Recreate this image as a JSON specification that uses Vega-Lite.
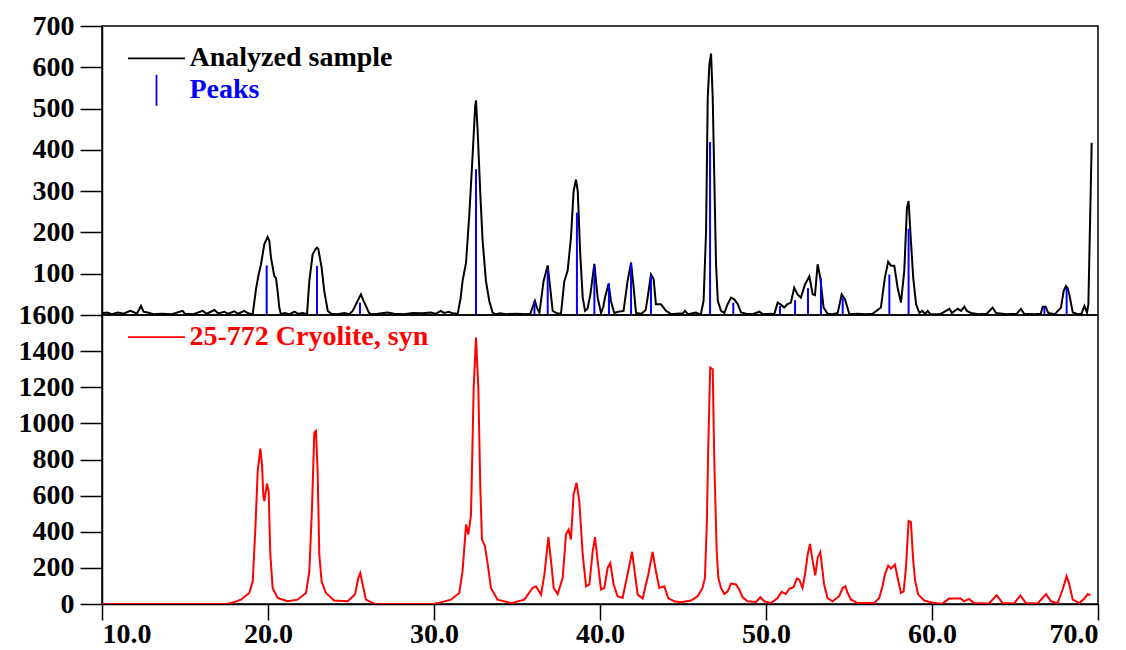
{
  "$schema": "https://vega.github.io/schema/vega-lite/v6.json",
  "padding": {"left": 5, "top": 11, "right": 5, "bottom": 5},
  "background": "#ffffff",
  "spacing": 0,
  "bounds": "flush",
  "datasets": {
    "sample": [
      {"angle": 10.0, "counts": 4}, {"angle": 10.3, "counts": 6}, {"angle": 10.6, "counts": 2}, {"angle": 10.95, "counts": 6},
      {"angle": 11.3, "counts": 3}, {"angle": 11.7, "counts": 10}, {"angle": 11.85, "counts": 8}, {"angle": 12.1, "counts": 3},
      {"angle": 12.35, "counts": 22}, {"angle": 12.5, "counts": 8}, {"angle": 12.75, "counts": 6}, {"angle": 13.1, "counts": 2},
      {"angle": 13.6, "counts": 3}, {"angle": 14.2, "counts": 2}, {"angle": 14.86, "counts": 10}, {"angle": 15.0, "counts": 3},
      {"angle": 15.5, "counts": 2}, {"angle": 16.07, "counts": 10}, {"angle": 16.3, "counts": 3}, {"angle": 16.77, "counts": 12},
      {"angle": 17.0, "counts": 4}, {"angle": 17.37, "counts": 8}, {"angle": 17.6, "counts": 3}, {"angle": 17.97, "counts": 9},
      {"angle": 18.2, "counts": 3}, {"angle": 18.57, "counts": 10}, {"angle": 18.8, "counts": 4}, {"angle": 19.08, "counts": 2},
      {"angle": 19.28, "counts": 63}, {"angle": 19.42, "counts": 95}, {"angle": 19.58, "counts": 123}, {"angle": 19.78, "counts": 172},
      {"angle": 19.98, "counts": 189}, {"angle": 20.08, "counts": 180}, {"angle": 20.18, "counts": 139}, {"angle": 20.38, "counts": 94},
      {"angle": 20.48, "counts": 90}, {"angle": 20.58, "counts": 58}, {"angle": 20.68, "counts": 18}, {"angle": 20.78, "counts": 2},
      {"angle": 21.0, "counts": 5}, {"angle": 21.3, "counts": 2}, {"angle": 21.6, "counts": 8}, {"angle": 21.8, "counts": 3},
      {"angle": 22.1, "counts": 5}, {"angle": 22.35, "counts": 2}, {"angle": 22.49, "counts": 82}, {"angle": 22.69, "counts": 147},
      {"angle": 22.87, "counts": 160}, {"angle": 22.95, "counts": 163}, {"angle": 23.03, "counts": 160}, {"angle": 23.23, "counts": 115},
      {"angle": 23.39, "counts": 58}, {"angle": 23.6, "counts": 10}, {"angle": 23.8, "counts": 3}, {"angle": 24.2, "counts": 2},
      {"angle": 24.6, "counts": 5}, {"angle": 24.9, "counts": 2}, {"angle": 25.1, "counts": 10}, {"angle": 25.3, "counts": 26},
      {"angle": 25.45, "counts": 38}, {"angle": 25.6, "counts": 50}, {"angle": 25.75, "counts": 35}, {"angle": 25.9, "counts": 22},
      {"angle": 26.05, "counts": 8}, {"angle": 26.16, "counts": 2}, {"angle": 26.6, "counts": 3}, {"angle": 27.2, "counts": 6},
      {"angle": 27.6, "counts": 3}, {"angle": 28.2, "counts": 2}, {"angle": 28.7, "counts": 5}, {"angle": 29.3, "counts": 4},
      {"angle": 29.8, "counts": 6}, {"angle": 30.1, "counts": 3}, {"angle": 30.4, "counts": 10}, {"angle": 30.6, "counts": 5},
      {"angle": 30.9, "counts": 8}, {"angle": 31.1, "counts": 4}, {"angle": 31.43, "counts": 3}, {"angle": 31.6, "counts": 40},
      {"angle": 31.72, "counts": 82}, {"angle": 31.93, "counts": 127}, {"angle": 32.13, "counts": 245}, {"angle": 32.33, "counts": 390},
      {"angle": 32.48, "counts": 505}, {"angle": 32.53, "counts": 520}, {"angle": 32.63, "counts": 445}, {"angle": 32.79, "counts": 293},
      {"angle": 32.93, "counts": 179}, {"angle": 33.13, "counts": 82}, {"angle": 33.33, "counts": 34}, {"angle": 33.53, "counts": 6},
      {"angle": 33.7, "counts": 2}, {"angle": 34.0, "counts": 4}, {"angle": 34.3, "counts": 2}, {"angle": 35.0, "counts": 3},
      {"angle": 35.5, "counts": 2}, {"angle": 35.8, "counts": 3}, {"angle": 35.95, "counts": 20}, {"angle": 36.08, "counts": 34},
      {"angle": 36.2, "counts": 18}, {"angle": 36.35, "counts": 5}, {"angle": 36.6, "counts": 82}, {"angle": 36.85, "counts": 120},
      {"angle": 37.0, "counts": 66}, {"angle": 37.15, "counts": 10}, {"angle": 37.4, "counts": 4}, {"angle": 37.65, "counts": 3},
      {"angle": 37.85, "counts": 82}, {"angle": 38.05, "counts": 107}, {"angle": 38.25, "counts": 187}, {"angle": 38.41, "counts": 300},
      {"angle": 38.55, "counts": 328}, {"angle": 38.66, "counts": 300}, {"angle": 38.81, "counts": 147}, {"angle": 38.96, "counts": 42},
      {"angle": 39.1, "counts": 10}, {"angle": 39.25, "counts": 15}, {"angle": 39.42, "counts": 50}, {"angle": 39.66, "counts": 124},
      {"angle": 39.86, "counts": 42}, {"angle": 40.06, "counts": 5}, {"angle": 40.2, "counts": 20}, {"angle": 40.3, "counts": 42},
      {"angle": 40.52, "counts": 76}, {"angle": 40.66, "counts": 34}, {"angle": 40.86, "counts": 5}, {"angle": 41.1, "counts": 8},
      {"angle": 41.42, "counts": 10}, {"angle": 41.66, "counts": 82}, {"angle": 41.87, "counts": 127}, {"angle": 42.03, "counts": 66},
      {"angle": 42.17, "counts": 5}, {"angle": 42.5, "counts": 3}, {"angle": 42.75, "counts": 12}, {"angle": 42.87, "counts": 42},
      {"angle": 43.07, "counts": 98}, {"angle": 43.23, "counts": 87}, {"angle": 43.37, "counts": 26}, {"angle": 43.67, "counts": 26},
      {"angle": 43.98, "counts": 10}, {"angle": 44.28, "counts": 2}, {"angle": 44.6, "counts": 3}, {"angle": 45.0, "counts": 4},
      {"angle": 45.12, "counts": 10}, {"angle": 45.3, "counts": 2}, {"angle": 45.78, "counts": 6}, {"angle": 46.0, "counts": 2},
      {"angle": 46.08, "counts": 3}, {"angle": 46.24, "counts": 34}, {"angle": 46.39, "counts": 203}, {"angle": 46.49, "counts": 526},
      {"angle": 46.59, "counts": 607}, {"angle": 46.69, "counts": 633}, {"angle": 46.79, "counts": 526}, {"angle": 46.89, "counts": 325},
      {"angle": 46.99, "counts": 123}, {"angle": 47.1, "counts": 34}, {"angle": 47.29, "counts": 10}, {"angle": 47.49, "counts": 5},
      {"angle": 47.69, "counts": 26}, {"angle": 47.89, "counts": 42}, {"angle": 48.09, "counts": 38}, {"angle": 48.3, "counts": 26},
      {"angle": 48.5, "counts": 6}, {"angle": 48.8, "counts": 3}, {"angle": 49.2, "counts": 2}, {"angle": 49.6, "counts": 8},
      {"angle": 49.8, "counts": 2}, {"angle": 50.3, "counts": 3}, {"angle": 50.5, "counts": 2}, {"angle": 50.7, "counts": 30},
      {"angle": 50.9, "counts": 25}, {"angle": 51.1, "counts": 18}, {"angle": 51.27, "counts": 26}, {"angle": 51.5, "counts": 30},
      {"angle": 51.7, "counts": 66}, {"angle": 51.9, "counts": 50}, {"angle": 52.1, "counts": 42}, {"angle": 52.35, "counts": 74},
      {"angle": 52.61, "counts": 94}, {"angle": 52.81, "counts": 50}, {"angle": 52.95, "counts": 48}, {"angle": 53.11, "counts": 123},
      {"angle": 53.27, "counts": 90}, {"angle": 53.47, "counts": 18}, {"angle": 53.71, "counts": 3}, {"angle": 54.0, "counts": 2},
      {"angle": 54.32, "counts": 5}, {"angle": 54.56, "counts": 50}, {"angle": 54.76, "counts": 38}, {"angle": 55.02, "counts": 2},
      {"angle": 55.5, "counts": 3}, {"angle": 56.0, "counts": 2}, {"angle": 56.42, "counts": 3}, {"angle": 56.92, "counts": 18},
      {"angle": 57.16, "counts": 90}, {"angle": 57.36, "counts": 129}, {"angle": 57.53, "counts": 119}, {"angle": 57.73, "counts": 119},
      {"angle": 57.93, "counts": 66}, {"angle": 58.13, "counts": 30}, {"angle": 58.33, "counts": 107}, {"angle": 58.49, "counts": 260},
      {"angle": 58.59, "counts": 276}, {"angle": 58.73, "counts": 179}, {"angle": 58.87, "counts": 90}, {"angle": 59.04, "counts": 26},
      {"angle": 59.24, "counts": 5}, {"angle": 59.4, "counts": 10}, {"angle": 59.6, "counts": 3}, {"angle": 59.74, "counts": 10},
      {"angle": 59.9, "counts": 2}, {"angle": 60.5, "counts": 2}, {"angle": 61.05, "counts": 15}, {"angle": 61.2, "counts": 5},
      {"angle": 61.55, "counts": 15}, {"angle": 61.75, "counts": 10}, {"angle": 61.95, "counts": 20}, {"angle": 62.1, "counts": 10},
      {"angle": 62.35, "counts": 5}, {"angle": 62.8, "counts": 2}, {"angle": 63.3, "counts": 3}, {"angle": 63.65, "counts": 18},
      {"angle": 63.85, "counts": 5}, {"angle": 64.5, "counts": 2}, {"angle": 65.1, "counts": 3}, {"angle": 65.36, "counts": 15},
      {"angle": 65.55, "counts": 3}, {"angle": 66.2, "counts": 2}, {"angle": 66.55, "counts": 3}, {"angle": 66.67, "counts": 20},
      {"angle": 66.85, "counts": 20}, {"angle": 67.0, "counts": 5}, {"angle": 67.4, "counts": 2}, {"angle": 67.77, "counts": 18},
      {"angle": 67.93, "counts": 58}, {"angle": 68.07, "counts": 70}, {"angle": 68.17, "counts": 65}, {"angle": 68.27, "counts": 50},
      {"angle": 68.48, "counts": 6}, {"angle": 68.8, "counts": 2}, {"angle": 69.0, "counts": 3}, {"angle": 69.18, "counts": 22},
      {"angle": 69.34, "counts": 6}, {"angle": 69.42, "counts": 26}, {"angle": 69.62, "counts": 417}
    ],
    "peaks": [
      {"angle": 19.92, "counts": 120}, {"angle": 22.95, "counts": 119}, {"angle": 25.54, "counts": 30},
      {"angle": 32.53, "counts": 353}, {"angle": 36.05, "counts": 34}, {"angle": 36.85, "counts": 111},
      {"angle": 38.61, "counts": 248}, {"angle": 39.66, "counts": 120}, {"angle": 40.54, "counts": 77},
      {"angle": 41.87, "counts": 127}, {"angle": 43.07, "counts": 95}, {"angle": 46.63, "counts": 419},
      {"angle": 48.03, "counts": 30}, {"angle": 50.84, "counts": 22}, {"angle": 51.75, "counts": 36},
      {"angle": 52.53, "counts": 65}, {"angle": 53.31, "counts": 90}, {"angle": 54.62, "counts": 42},
      {"angle": 57.43, "counts": 98}, {"angle": 58.59, "counts": 209}, {"angle": 66.77, "counts": 19},
      {"angle": 68.11, "counts": 66}
    ],
    "cryolite": [
      {"angle": 10.0, "counts": 0}, {"angle": 17.5, "counts": 0}, {"angle": 17.77, "counts": 5}, {"angle": 18.37, "counts": 24},
      {"angle": 18.87, "counts": 61}, {"angle": 19.08, "counts": 126}, {"angle": 19.24, "counts": 421}, {"angle": 19.38, "counts": 736},
      {"angle": 19.54, "counts": 860}, {"angle": 19.64, "counts": 773}, {"angle": 19.72, "counts": 600}, {"angle": 19.78, "counts": 570},
      {"angle": 19.94, "counts": 666}, {"angle": 20.04, "counts": 625}, {"angle": 20.14, "counts": 274}, {"angle": 20.28, "counts": 89},
      {"angle": 20.58, "counts": 33}, {"angle": 21.18, "counts": 15}, {"angle": 21.78, "counts": 24}, {"angle": 22.29, "counts": 61},
      {"angle": 22.49, "counts": 181}, {"angle": 22.65, "counts": 532}, {"angle": 22.79, "counts": 948}, {"angle": 22.89, "counts": 958},
      {"angle": 22.99, "counts": 736}, {"angle": 23.09, "counts": 274}, {"angle": 23.23, "counts": 126}, {"angle": 23.49, "counts": 61},
      {"angle": 23.99, "counts": 19}, {"angle": 24.8, "counts": 15}, {"angle": 25.24, "counts": 52}, {"angle": 25.44, "counts": 144},
      {"angle": 25.56, "counts": 172}, {"angle": 25.7, "counts": 108}, {"angle": 25.9, "counts": 24}, {"angle": 26.4, "counts": 2},
      {"angle": 27.0, "counts": 0}, {"angle": 30.0, "counts": 2}, {"angle": 30.22, "counts": 5}, {"angle": 31.02, "counts": 24},
      {"angle": 31.52, "counts": 61}, {"angle": 31.72, "counts": 181}, {"angle": 31.93, "counts": 440}, {"angle": 32.07, "counts": 385},
      {"angle": 32.23, "counts": 496}, {"angle": 32.39, "counts": 1198}, {"angle": 32.53, "counts": 1475}, {"angle": 32.67, "counts": 1198},
      {"angle": 32.79, "counts": 643}, {"angle": 32.89, "counts": 357}, {"angle": 33.07, "counts": 320}, {"angle": 33.24, "counts": 218},
      {"angle": 33.43, "counts": 89}, {"angle": 33.83, "counts": 24}, {"angle": 34.64, "counts": 5}, {"angle": 35.44, "counts": 24},
      {"angle": 35.94, "counts": 89}, {"angle": 36.14, "counts": 98}, {"angle": 36.45, "counts": 52}, {"angle": 36.65, "counts": 163},
      {"angle": 36.89, "counts": 370}, {"angle": 37.05, "counts": 237}, {"angle": 37.21, "counts": 89}, {"angle": 37.45, "counts": 55},
      {"angle": 37.75, "counts": 144}, {"angle": 37.95, "counts": 385}, {"angle": 38.11, "counts": 412}, {"angle": 38.25, "counts": 357},
      {"angle": 38.41, "counts": 607}, {"angle": 38.59, "counts": 671}, {"angle": 38.75, "counts": 570}, {"angle": 38.96, "counts": 274},
      {"angle": 39.16, "counts": 98}, {"angle": 39.36, "counts": 108}, {"angle": 39.56, "counts": 292}, {"angle": 39.7, "counts": 370},
      {"angle": 39.86, "counts": 237}, {"angle": 40.06, "counts": 80}, {"angle": 40.26, "counts": 89}, {"angle": 40.46, "counts": 200},
      {"angle": 40.62, "counts": 227}, {"angle": 40.82, "counts": 108}, {"angle": 41.06, "counts": 43}, {"angle": 41.36, "counts": 33},
      {"angle": 41.66, "counts": 163}, {"angle": 41.93, "counts": 289}, {"angle": 42.11, "counts": 163}, {"angle": 42.27, "counts": 52},
      {"angle": 42.57, "counts": 30}, {"angle": 42.91, "counts": 163}, {"angle": 43.17, "counts": 289}, {"angle": 43.37, "counts": 181},
      {"angle": 43.57, "counts": 89}, {"angle": 43.87, "counts": 98}, {"angle": 44.11, "counts": 33}, {"angle": 44.47, "counts": 15},
      {"angle": 44.88, "counts": 10}, {"angle": 45.48, "counts": 19}, {"angle": 45.88, "counts": 43}, {"angle": 46.18, "counts": 89},
      {"angle": 46.32, "counts": 144}, {"angle": 46.44, "counts": 459}, {"angle": 46.52, "counts": 865}, {"angle": 46.64, "counts": 1309},
      {"angle": 46.79, "counts": 1300}, {"angle": 46.89, "counts": 773}, {"angle": 47.03, "counts": 292}, {"angle": 47.13, "counts": 144},
      {"angle": 47.29, "counts": 89}, {"angle": 47.49, "counts": 55}, {"angle": 47.69, "counts": 70}, {"angle": 47.89, "counts": 113},
      {"angle": 48.19, "counts": 108}, {"angle": 48.39, "counts": 80}, {"angle": 48.59, "counts": 37}, {"angle": 48.89, "counts": 15},
      {"angle": 49.4, "counts": 11}, {"angle": 49.66, "counts": 37}, {"angle": 49.9, "counts": 15}, {"angle": 50.3, "counts": 5},
      {"angle": 50.7, "counts": 33}, {"angle": 50.94, "counts": 67}, {"angle": 51.2, "counts": 55}, {"angle": 51.4, "counts": 84},
      {"angle": 51.66, "counts": 93}, {"angle": 51.86, "counts": 141}, {"angle": 52.0, "counts": 136}, {"angle": 52.2, "counts": 89},
      {"angle": 52.35, "counts": 163}, {"angle": 52.51, "counts": 274}, {"angle": 52.65, "counts": 333}, {"angle": 52.81, "counts": 237},
      {"angle": 52.97, "counts": 159}, {"angle": 53.11, "counts": 255}, {"angle": 53.27, "counts": 287}, {"angle": 53.41, "counts": 181},
      {"angle": 53.5, "counts": 108}, {"angle": 53.71, "counts": 33}, {"angle": 54.01, "counts": 15}, {"angle": 54.41, "counts": 43},
      {"angle": 54.62, "counts": 89}, {"angle": 54.78, "counts": 98}, {"angle": 54.92, "counts": 61}, {"angle": 55.12, "counts": 24},
      {"angle": 55.52, "counts": 5}, {"angle": 56.52, "counts": 5}, {"angle": 56.82, "counts": 33}, {"angle": 57.02, "counts": 98},
      {"angle": 57.16, "counts": 163}, {"angle": 57.36, "counts": 213}, {"angle": 57.53, "counts": 196}, {"angle": 57.77, "counts": 218},
      {"angle": 57.93, "counts": 144}, {"angle": 58.13, "counts": 61}, {"angle": 58.29, "counts": 70}, {"angle": 58.43, "counts": 200},
      {"angle": 58.59, "counts": 459}, {"angle": 58.73, "counts": 453}, {"angle": 58.87, "counts": 237}, {"angle": 58.99, "counts": 126},
      {"angle": 59.17, "counts": 52}, {"angle": 59.53, "counts": 19}, {"angle": 60.13, "counts": 5}, {"angle": 60.63, "counts": 2},
      {"angle": 61.03, "counts": 30}, {"angle": 61.73, "counts": 30}, {"angle": 61.93, "counts": 15}, {"angle": 62.23, "counts": 28},
      {"angle": 62.53, "counts": 5}, {"angle": 63.43, "counts": 3}, {"angle": 63.9, "counts": 48}, {"angle": 64.25, "counts": 5},
      {"angle": 64.95, "counts": 3}, {"angle": 65.32, "counts": 48}, {"angle": 65.66, "counts": 5}, {"angle": 66.37, "counts": 3},
      {"angle": 66.87, "counts": 55}, {"angle": 67.17, "counts": 15}, {"angle": 67.57, "counts": 5}, {"angle": 67.87, "counts": 80},
      {"angle": 68.11, "counts": 154}, {"angle": 68.27, "counts": 108}, {"angle": 68.48, "counts": 24}, {"angle": 68.88, "counts": 5},
      {"angle": 69.18, "counts": 30}, {"angle": 69.38, "counts": 55}, {"angle": 69.54, "counts": 48}
    ]
  },
  "vconcat": [
    {
      "width": 996,
      "height": 289,
      "layer": [
        {
          "data": {"name": "sample"},
          "mark": {"type": "line", "strokeWidth": 2, "clip": true},
          "encoding": {
            "x": {"field": "angle", "type": "quantitative", "scale": {"domain": [10, 70], "nice": false, "zero": false}, "axis": null},
            "y": {
              "field": "counts", "type": "quantitative",
              "scale": {"domain": [0, 700], "nice": false},
              "axis": {"title": null, "format": "d", "values": [100, 200, 300, 400, 500, 600, 700]}
            },
            "color": {
              "datum": "Analyzed sample", "type": "nominal",
              "scale": {"domain": ["Analyzed sample", "Peaks"], "range": ["#000000", "#0000ff"]},
              "legend": {
                "title": null, "orient": "none", "legendX": 40.5, "legendY": 18.3, "padding": 0,
                "symbolSize": 100, "symbolStrokeWidth": 1.8,
                "labelFont": "Liberation Serif", "labelFontSize": 28, "labelFontWeight": "bold",
                "labelOffset": 19, "rowPadding": -2, "labelLimit": 0,
                "encode": {
                  "symbols": {"update": {"shape": {"signal": "datum.label === 'Peaks' ? 'M0,-3.1L0,3.1' : 'M-5.7,0L5.7,0'"}}},
                  "labels": {"update": {"fill": {"signal": "datum.label === 'Peaks' ? '#0000ff' : '#000000'"}}}
                }
              }
            }
          }
        },
        {
          "data": {"name": "peaks"},
          "mark": {"type": "rule", "strokeWidth": 2},
          "encoding": {
            "x": {"field": "angle", "type": "quantitative"},
            "y": {"field": "counts", "type": "quantitative"},
            "y2": {"datum": 0},
            "color": {"datum": "Peaks", "type": "nominal"}
          }
        }
      ]
    },
    {
      "width": 996,
      "height": 289,
      "data": {"name": "cryolite"},
      "mark": {"type": "line", "strokeWidth": 2, "clip": true},
      "encoding": {
        "x": {
          "field": "angle", "type": "quantitative",
          "scale": {"domain": [10, 70], "nice": false, "zero": false},
          "axis": {"title": null, "values": [10, 20, 30, 40, 50, 60, 70], "format": ".1f", "tickSize": 16, "labelPadding": 0}
        },
        "y": {
          "field": "counts", "type": "quantitative",
          "scale": {"domain": [0, 1600], "nice": false},
          "axis": {"title": null, "format": "d", "values": [0, 200, 400, 600, 800, 1000, 1200, 1400, 1600]}
        },
        "color": {
          "datum": "25-772 Cryolite, syn", "type": "nominal",
          "scale": {"domain": ["25-772 Cryolite, syn"], "range": ["#ff0000"]},
          "legend": {
            "title": null, "orient": "none", "legendX": 40.5, "legendY": 8.2, "padding": 0,
            "symbolSize": 100, "symbolStrokeWidth": 1.8,
            "labelFont": "Liberation Serif", "labelFontSize": 28, "labelFontWeight": "bold",
            "labelOffset": 19, "labelLimit": 0, "labelColor": "#ff0000",
            "encode": {
              "symbols": {"update": {"shape": {"value": "M-5.7,0L5.7,0"}}}
            }
          }
        }
      }
    }
  ],
  "resolve": {
    "scale": {"y": "independent", "color": "independent"},
    "legend": {"color": "independent"}
  },
  "config": {
    "font": "Liberation Serif",
    "view": {"stroke": "#000000", "strokeWidth": 1.5},
    "axis": {
      "grid": false,
      "domainColor": "#000000", "domainWidth": 1.5,
      "tickColor": "#000000", "tickWidth": 1.5,
      "labelColor": "#000000", "labelFont": "Liberation Serif", "labelFontWeight": "bold", "labelFontSize": 28
    },
    "axisY": {"tickSize": 22, "labelPadding": 6, "minExtent": 96, "maxExtent": 96}
  }
}
